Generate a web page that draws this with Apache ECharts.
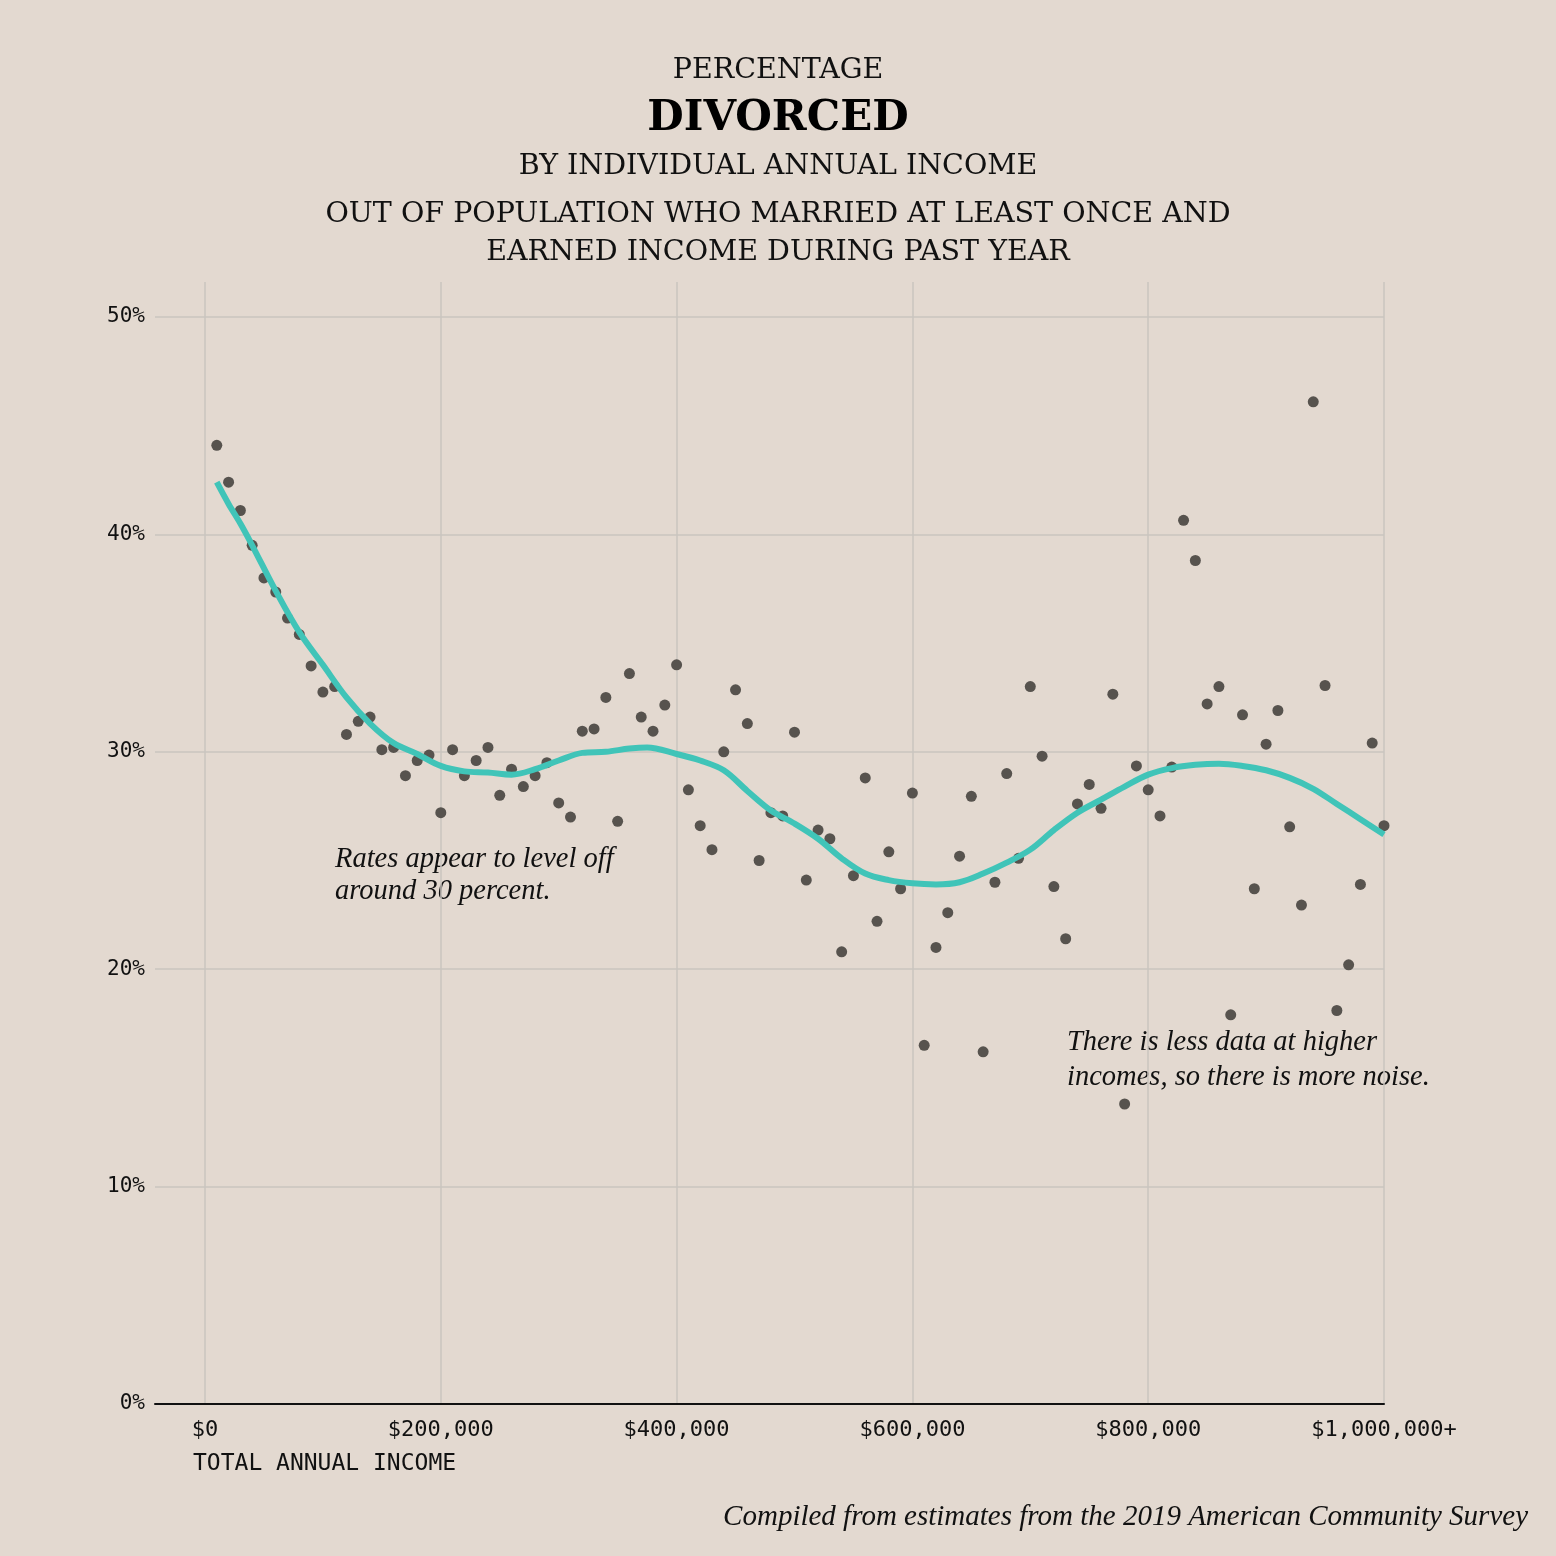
<!DOCTYPE html>
<html>
<head>
<meta charset="utf-8">
<script src="https://cdn.jsdelivr.net/npm/echarts@6/dist/echarts.min.js"></script>
<style>
html,body{margin:0;padding:0;background:#e3d9d0;}
#chart{width:1556px;height:1556px;}
</style>
</head>
<body>
<div id="chart"></div>
<script>
// Income in thousands of dollars
const incomeK = [10,20,30,40,50,60,70,80,90,100,110,120,130,140,150,160,170,180,190,200,
  210,220,230,240,250,260,270,280,290,300,310,320,330,340,350,360,370,380,390,400,
  410,420,430,440,450,460,470,480,490,500,510,520,530,540,550,560,570,580,590,600,
  610,620,630,640,650,660,670,680,690,700,710,720,730,740,750,760,770,780,790,800,
  810,820,830,840,850,860,870,880,890,900,910,920,930,940,950,960,970,980,990,1000];
// Percentage divorced
const divorcedPct = [44.1,42.4,41.1,39.5,38.0,37.35,36.15,35.4,33.95,32.75,33.0,30.8,31.4,31.6,30.1,30.2,28.9,29.6,29.85,27.2,
  30.1,28.9,29.6,30.2,28.0,29.2,28.4,28.9,29.5,27.65,27.0,30.95,31.05,32.5,26.8,33.6,31.6,30.95,32.15,34.0,
  28.25,26.6,25.5,30.0,32.85,31.3,25.0,27.2,27.05,30.9,24.1,26.4,26.0,20.8,24.3,28.8,22.2,25.4,23.7,28.1,
  16.5,21.0,22.6,25.2,27.95,16.2,24.0,29.0,25.1,33.0,29.8,23.8,21.4,27.6,28.5,27.4,32.65,13.8,29.35,28.25,
  27.05,29.3,40.65,38.8,32.2,33.0,17.9,31.7,23.7,30.35,31.9,26.55,22.95,46.1,33.05,18.1,20.2,23.9,30.4,26.6];
// Smoothed trend
const trendIncomeK = [10,20,30,40,60,80,100,120,140,160,180,200,220,240,260,280,300,320,340,360,375,400,420,440,460,480,500,
  520,540,560,580,600,620,640,660,680,700,720,740,760,780,800,820,840,860,880,900,920,940,960,980,1000];
const trendPct = [42.4,41.4,40.5,39.5,37.4,35.5,34.0,32.5,31.3,30.4,29.9,29.35,29.1,29.05,28.95,29.2,29.6,29.95,30.0,30.15,30.2,29.9,29.6,29.15,28.2,27.3,26.7,
  26.0,25.1,24.4,24.1,23.95,23.9,24.0,24.4,24.9,25.5,26.4,27.2,27.8,28.4,28.95,29.25,29.4,29.45,29.35,29.15,28.8,28.3,27.6,26.9,26.2];
const xTickLabels = ['$0','$200,000','$400,000','$600,000','$800,000','$1,000,000+'];

const chart = echarts.init(document.getElementById('chart'));
const serif = '"DejaVu Serif", "Liberation Serif", serif';
const italicSerif = '"Liberation Serif", serif';
const mono = '"DejaVu Sans Mono", "Liberation Mono", monospace';
const gridColor = '#cac4bf';

const option = {
  backgroundColor: '#e3d9d0',
  animation: false,
  grid: [
    {left: 205, right: 172, top: 317, bottom: 152},
    {left: 155, right: 172, top: 317, bottom: 152},
    {left: 205, right: 172, top: 282, bottom: 152}
  ],
  xAxis: [
    {gridIndex: 0, type: 'value', min: 0, max: 1000, show: false},
    {gridIndex: 1, type: 'value', min: 0, max: 1, axisLine: {show: true, lineStyle: {color: '#111', width: 2}},
      axisTick: {show: false}, axisLabel: {show: false}, splitLine: {show: false}, z: 5},
    {gridIndex: 2, type: 'value', min: 0, max: 1000, interval: 200,
      axisLine: {show: false}, axisTick: {show: false},
      splitLine: {show: true, lineStyle: {color: gridColor, width: 1.5}},
      axisLabel: {margin: 15, color: '#111', fontFamily: mono, fontSize: 22,
        formatter: (v) => xTickLabels[Math.round(v / 200)]}}
  ],
  yAxis: [
    {gridIndex: 0, type: 'value', min: 0, max: 50, show: false},
    {gridIndex: 1, type: 'value', min: 0, max: 50, interval: 10,
      axisLine: {show: false}, axisTick: {show: false},
      splitLine: {show: true, lineStyle: {color: gridColor, width: 1.5}},
      axisLabel: {margin: 10, color: '#111', fontFamily: mono, fontSize: 21, padding: [5, 0, 0, 0], formatter: '{value}%'}},
    {gridIndex: 2, type: 'value', min: 0, max: 1, show: false}
  ],
  series: [
    {type: 'scatter', xAxisIndex: 0, yAxisIndex: 0, symbolSize: 11, z: 3,
      itemStyle: {color: '#57534e', opacity: 1},
      data: incomeK.map((x, i) => [x, divorcedPct[i]])},
    {type: 'line', xAxisIndex: 0, yAxisIndex: 0, smooth: 0.35, showSymbol: false, z: 4,
      lineStyle: {color: '#40c4b8', width: 6},
      data: trendIncomeK.map((x, i) => [x, trendPct[i]])}
  ],
  graphic: [
    {type: 'text', left: 'center', top: 56, style: {text: 'PERCENTAGE', font: '28.5px ' + serif, fill: '#111'}},
    {type: 'text', left: 'center', top: 98, style: {text: 'DIVORCED', font: 'bold 42px ' + serif, fill: '#000'}},
    {type: 'text', left: 'center', top: 152, style: {text: 'BY INDIVIDUAL ANNUAL INCOME', font: '28.5px ' + serif, fill: '#111'}},
    {type: 'text', left: 'center', top: 200, style: {text: 'OUT OF POPULATION WHO MARRIED AT LEAST ONCE AND', font: '28.5px ' + serif, fill: '#111'}},
    {type: 'text', left: 'center', top: 238, style: {text: 'EARNED INCOME DURING PAST YEAR', font: '28.5px ' + serif, fill: '#111'}},
    {type: 'text', left: 335, top: 844, style: {text: 'Rates appear to level off\naround 30 percent.', font: 'italic 28.5px ' + italicSerif, lineHeight: 32, fill: '#111'}},
    {type: 'text', left: 1067, top: 1025, style: {text: 'There is less data at higher\nincomes, so there is more noise.', font: 'italic 28.5px ' + italicSerif, lineHeight: 35, fill: '#111'}},
    {type: 'text', left: 193, top: 1453, style: {text: 'TOTAL ANNUAL INCOME', font: '23px ' + mono, fill: '#111'}},
    {type: 'text', right: 28, top: 1503, style: {text: 'Compiled from estimates from the 2019 American Community Survey', font: 'italic 29px ' + italicSerif, fill: '#111'}}
  ]
};
chart.setOption(option);
</script>
</body>
</html>
